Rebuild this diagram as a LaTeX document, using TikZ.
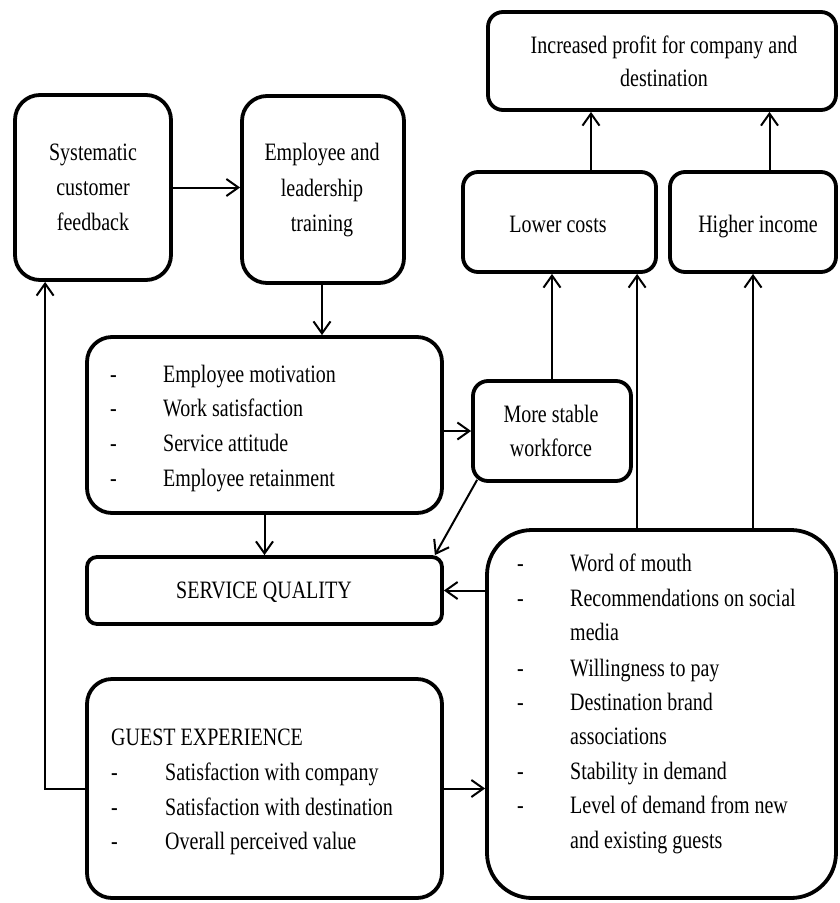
\documentclass[tikz,border=0pt]{standalone}
\usepackage{fontspec}
\setmainfont{Liberation Serif}
\usetikzlibrary{arrows.meta,calc}
\newcommand\dsh{\makebox[53pt][l]{-}}
\newcommand\nodsh{\makebox[53pt][l]{}}
\newcommand\T[1]{\scalebox{1}[1.25]{#1}}
\begin{document}
\begin{tikzpicture}[x=1pt,y=-1pt,
  box/.style={draw, line width=3.8pt, inner sep=0pt},
  txt/.style={inner sep=0pt, font=\rmfamily\fontsize{20}{24}\selectfont},
  arr/.style={line width=2pt, -{Straight Barb[length=12pt,width=17pt,line width=2pt]}}]
\useasboundingbox (0,0) rectangle (840,903);
% boxes
\node[box, rounded corners=25pt, minimum width=156pt, minimum height=185pt] (scf) at (93,187.5) {};
\node[box, rounded corners=25pt, minimum width=162pt, minimum height=187pt] (elt) at (323,189.5) {};
\node[box, rounded corners=15pt, minimum width=348pt, minimum height=98pt] (profit) at (662,61) {};
\node[box, rounded corners=15pt, minimum width=193pt, minimum height=100pt] (lower) at (559.5,222) {};
\node[box, rounded corners=15pt, minimum width=166pt, minimum height=100pt] (higher) at (753,222) {};
\node[box, rounded corners=25pt, minimum width=355pt, minimum height=176pt] (emp) at (264.5,425) {};
\node[box, rounded corners=15pt, minimum width=158pt, minimum height=100pt] (msw) at (552,431) {};
\node[box, rounded corners=10pt, minimum width=355pt, minimum height=67pt] (sq) at (264.5,590.5) {};
\node[box, rounded corners=25pt, minimum width=355pt, minimum height=219pt] (ge) at (264.5,788.5) {};
\node[box, rounded corners=45pt, minimum width=349pt, minimum height=368pt] (wom) at (661.5,714) {};
% texts
\node[txt, anchor=base] (scf1) at (93,160) {\T{Systematic}};
\node[txt, anchor=base] (scf2) at (93,195) {\T{customer}};
\node[txt, anchor=base] (scf3) at (93,230) {\T{feedback}};
\node[txt, anchor=base] (elt1) at (322,160) {\T{Employee and}};
\node[txt, anchor=base] (elt2) at (322,196) {\T{leadership}};
\node[txt, anchor=base] (elt3) at (322,231) {\T{training}};
\node[txt, anchor=base] (pr1) at (664,53) {\T{Increased profit for company and}};
\node[txt, anchor=base] (pr2) at (664,86) {\T{destination}};
\node[txt, anchor=base] (lc1) at (558,232) {\T{Lower costs}};
\node[txt, anchor=base] (hi1) at (758,232) {\T{Higher income}};
\node[txt, anchor=base west] (em1) at (110,382) {\T{\dsh Employee motivation}};
\node[txt, anchor=base west] (em2) at (110,416) {\T{\dsh Work satisfaction}};
\node[txt, anchor=base west] (em3) at (110,451) {\T{\dsh Service attitude}};
\node[txt, anchor=base west] (em4) at (110,486) {\T{\dsh Employee retainment}};
\node[txt, anchor=base] (ms1) at (551,422) {\T{More stable}};
\node[txt, anchor=base] (ms2) at (551,456) {\T{workforce}};
\node[txt, anchor=base] (sq1) at (264,598) {\T{SERVICE QUALITY}};
\node[txt, anchor=base west] (ge0) at (111,745) {\T{GUEST EXPERIENCE}};
\node[txt, anchor=base west] (ge1) at (111,780) {\T{\makebox[54pt][l]{-}Satisfaction with company}};
\node[txt, anchor=base west] (ge2) at (111,815) {\T{\makebox[54pt][l]{-}Satisfaction with destination}};
\node[txt, anchor=base west] (ge3) at (111,849) {\T{\makebox[54pt][l]{-}Overall perceived value}};
\node[txt, anchor=base west] (wm1) at (517,571) {\T{\dsh Word of mouth}};
\node[txt, anchor=base west] (wm2) at (517,606) {\T{\dsh Recommendations on social}};
\node[txt, anchor=base west] (wm3) at (517,640) {\T{\nodsh media}};
\node[txt, anchor=base west] (wm4) at (517,676) {\T{\dsh Willingness to pay}};
\node[txt, anchor=base west] (wm5) at (517,710) {\T{\dsh Destination brand}};
\node[txt, anchor=base west] (wm6) at (517,744) {\T{\nodsh associations}};
\node[txt, anchor=base west] (wm7) at (517,779) {\T{\dsh Stability in demand}};
\node[txt, anchor=base west] (wm8) at (517,813) {\T{\dsh Level of demand from new}};
\node[txt, anchor=base west] (wm9) at (517,848) {\T{\nodsh and existing guests}};
% connectors
\draw[arr] (scf.east) -- (scf.east -| elt.west);
\draw[arr] ($(elt.south)+(-1,0)$) -- ($(elt.south |- emp.north)+(-1,0)$);
\draw[arr] (msw.west -| emp.east) -- (msw.west);
\draw[arr] (emp.south) -- (sq.north);
\draw[arr] ($(msw.south west)+(6,-3)$) -- ($(sq.north east)+(-9,0)$);
\draw[arr] (msw.north) -- (msw.north |- lower.south);
\coordinate (wa) at ($(wom.north west)+(152,0)$);
\draw[arr] (wa) -- (wa |- lower.south);
\draw[arr] (higher.south |- wom.north) -- (higher.south);
\coordinate (la) at ($(lower.north)+(31.5,0)$);
\draw[arr] (la) -- (la |- profit.south);
\coordinate (ha) at ($(higher.north)+(16.5,0)$);
\draw[arr] (ha) -- (ha |- profit.south);
\draw[arr] (wom.west |- sq.east) -- (sq.east);
\draw[arr] (ge.east) -- (ge.east -| wom.west);
\coordinate (fb) at ($(scf.south west)+(32,0)$);
\draw[arr] (ge.west) -| (fb);
\end{tikzpicture}
\end{document}
